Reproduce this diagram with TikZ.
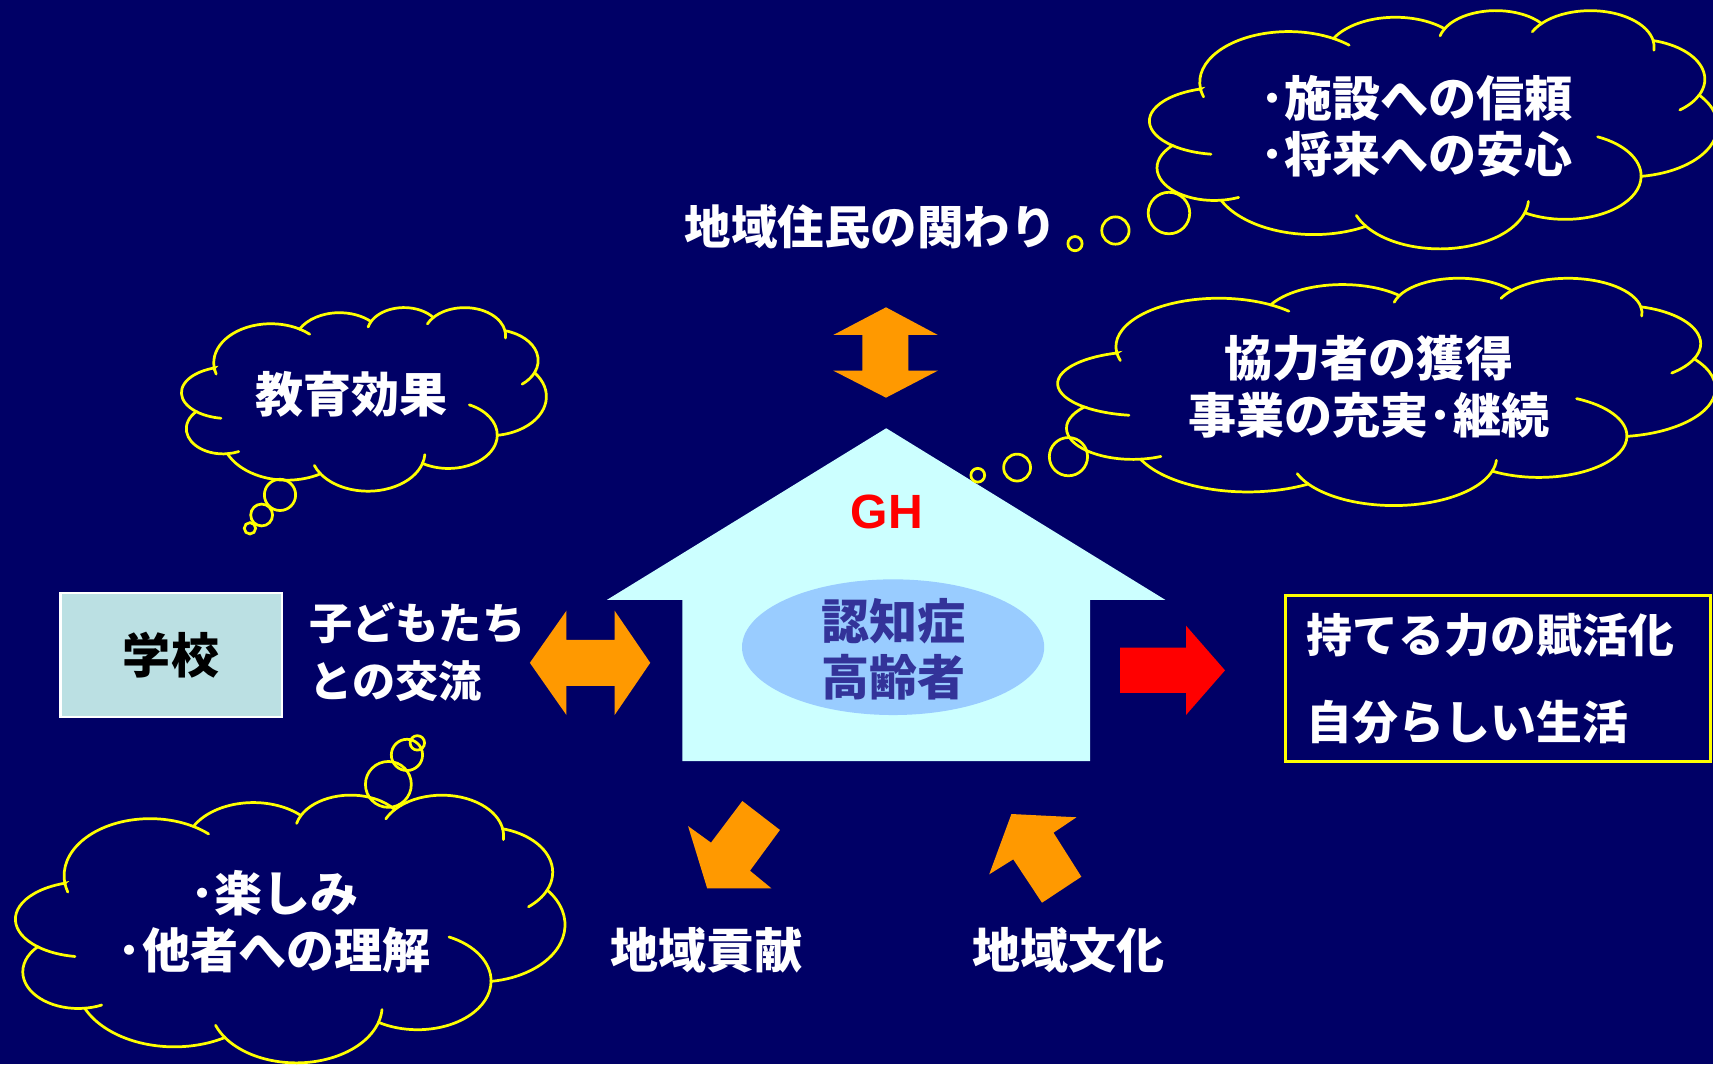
\documentclass[tikz,border=0pt]{standalone}
\usepackage{fontspec}
\newfontfamily\jp{Noto Sans CJK JP}
\newfontfamily\arialf{Liberation Sans}
\usetikzlibrary{shapes.geometric}
\definecolor{bg}{RGB}{0,0,102}
\definecolor{orangeA}{RGB}{255,153,0}
\definecolor{houseC}{RGB}{204,255,255}
\definecolor{ellC}{RGB}{153,204,255}
\definecolor{ellT}{RGB}{51,51,153}
\definecolor{schoolC}{RGB}{187,224,227}
\definecolor{cloudY}{RGB}{255,255,0}
\tikzset{
  cloudline/.style={draw=cloudY, line width=2.5pt, line cap=round},
  bubble/.style={draw=cloudY, line width=2.5pt},
  txt/.style={text=white, font=\jp\bfseries\fontsize{44}{52}\selectfont, inner sep=0pt, align=center},
  blockarrow/.style={fill=orangeA},
}
\newcommand{\cloudhook}[5]{\draw[cloudline] (#1) ++(#4:#2 and #3) arc[start angle=#4,end angle=#5,x radius=#2,y radius=#3];}
\newcommand{\mycloud}[4]{%
  \begin{scope}[shift={(#1,#2)},x=#3pt,y=-#4pt]
    \draw[cloudline] (9.028,33.264)
      arc[start angle=172.255,end angle=300.36,x radius=15.632,y radius=21.273]
      arc[start angle=-152.02,end angle=-45.45,x radius=12.345,y radius=16.822]
      arc[start angle=-153.49,end angle=-37.33,x radius=10.104,y radius=13.762]
      arc[start angle=-139.70,end angle=-10.21,x radius=11.243,y radius=15.266]
      arc[start angle=-74.77,end angle=23.21,x radius=12.345,y radius=16.836]
      arc[start angle=-37.52,end angle=81.86,x radius=15.683,y radius=21.343]
      arc[start angle=0.46,end angle=121.99,x radius=13.391,y radius=18.211]
      arc[start angle=16.84,end angle=146.25,x radius=15.630,y radius=21.331]
      arc[start angle=58.99,end angle=155.85,x radius=17.870,y radius=24.405]
      arc[start angle=83.31,end angle=223.12,x radius=10.093,y radius=13.699]
      arc[start angle=133.1,end angle=252.7,x radius=12.847,y radius=14.097] -- cycle;
    \cloudhook{24.517,30.397}{15.632}{21.273}{163.2}{172.255}
    \cloudhook{24.517,30.397}{15.632}{21.273}{300.36}{313}
    \cloudhook{61.023,14.089}{10.104}{13.762}{-166.6}{-153.49}
    \cloudhook{77.632,15.617}{11.243}{15.266}{-155.2}{-139.70}
    \cloudhook{77.632,15.617}{11.243}{15.266}{-10.21}{5}
    \cloudhook{85.454,29.156}{12.345}{16.836}{23.21}{50}
    \cloudhook{73.190,69.771}{13.391}{18.211}{-64.6}{0.46}
    \cloudhook{51.137,79.036}{15.630}{21.331}{3.78}{16.84}
    \cloudhook{51.137,79.036}{15.630}{21.331}{146.25}{160}
    \cloudhook{11.450,66.345}{10.093}{13.699}{65}{83.31}
    \cloudhook{12.847,46.690}{12.847}{14.097}{98.9}{133.1}
  \end{scope}}
\begin{document}
\begin{tikzpicture}[x=1pt,y=-1pt]
\useasboundingbox (0,0) rectangle (1568,974);
\fill[bg] (0,0) rectangle (1568,974);

% house
\fill[houseC] (555.4,549.2) -- (811.2,392) -- (1066.8,549.2) -- (997.8,549.2) -- (997.8,696.6) -- (624.5,696.6) -- (624.5,549.2) -- cycle;
\node[ellipse, fill=ellC, minimum width=276.6pt, minimum height=124.2pt, inner sep=0pt] (elder) at (817.5,592.4) {};
\node[txt, text=ellT, font=\jp\bfseries\fontsize{44}{51}\selectfont] (eldertext) at (818,594.5) {認知症\\高齢者};
\node[inner sep=0pt, text=red, font=\arialf\bfseries\fontsize{44}{50}\selectfont] (gh) at (811.7,468.5) {GH};

% school
\node[draw=white, line width=2pt, fill=schoolC, minimum width=202.5pt, minimum height=113.5pt, inner sep=0pt,
      text=black, font=\jp\bfseries\fontsize{44}{52}\selectfont] (school) at (156.55,599.25) {学校};
\node[txt, anchor=west, align=left, font=\jp\bfseries\fontsize{39.5}{53}\selectfont] (kids) at (283,596.5) {子どもたち\\との交流};

% goal box
\node[draw=cloudY, line width=2.5pt, minimum width=389.2pt, minimum height=152pt, inner sep=0pt] (goalbox) at (1371.4,621.2) {};
\node[txt, anchor=west, align=left, font=\jp\bfseries\fontsize{42}{80}\selectfont] (goaltext) at (1196,621) {持てる力の賦活化\\自分らしい生活};

% labels
\node[txt, font=\jp\bfseries\fontsize{42.5}{52}\selectfont] (resident) at (797,207.5) {地域住民の関わり};
\node[txt] (contrib) at (646.4,870) {地域貢献};
\node[txt] (culture) at (978,870) {地域文化};

% arrows
\fill[blockarrow] (811,281.3) -- (858.4,306.6) -- (831.5,306.6) -- (831.5,339.3) -- (858.4,339.3) -- (811,364)
  -- (762.8,339.3) -- (789.4,339.3) -- (789.4,306.6) -- (762.8,306.6) -- cycle;
\fill[blockarrow] (485,606.7) -- (518.5,559) -- (518.5,585.8) -- (562.6,585.8) -- (562.6,559) -- (595.2,606.7)
  -- (562.6,654.5) -- (562.6,627.9) -- (518.5,627.9) -- (518.5,654.5) -- cycle;
\fill[red] (1025.2,592.8) -- (1085.6,592.8) -- (1085.6,572.7) -- (1121.3,613.6) -- (1085.6,654.5) -- (1085.6,634.2) -- (1025.2,634.2) -- cycle;
\fill[blockarrow] (647.3,813.1) -- (629.8,756.1) -- (650.8,771.3) -- (679.5,733.2) -- (713.9,759.7) -- (686.5,797) -- (706.1,813.1) -- cycle;
\fill[blockarrow] (925.8,745.1) -- (985.4,748.1) -- (964.3,762.2) -- (989.8,802.5) -- (953.8,826.3) -- (927.5,786.6) -- (905.5,800.3) -- cycle;

% clouds
\mycloud{1052}{9}{5.20}{2.18}
\mycloud{968}{254}{6.02}{2.08}
\mycloud{166}{281}{3.34}{1.68}
\mycloud{14}{727}{5.03}{2.45}

% cloud texts
\node[txt] (trust) at (1296.5,115.5) {･施設への信頼\\･将来への安心};
\node[txt] (coop) at (1253,354) {協力者の獲得\\事業の充実･継続};
\node[txt] (edu) at (322,361) {教育効果};
\node[txt] (fun) at (251,844) {･楽しみ\\･他者への理解};

% bubbles
\draw[bubble] (1070,195) circle[radius=19];
\draw[bubble] (1021,211) circle[radius=12.5];
\draw[bubble] (984,223) circle[radius=6.5];
\draw[bubble] (978,418) circle[radius=17.5];
\draw[bubble] (931,428) circle[radius=12.3];
\draw[bubble] (895,435) circle[radius=6.3];
\draw[bubble] (256.3,453) circle[radius=14.3];
\draw[bubble] (239.5,471.4) circle[radius=10];
\draw[bubble] (228.8,483.6) circle[radius=5.2];
\draw[bubble] (355.5,718) circle[radius=21];
\draw[bubble] (372.5,691) circle[radius=14.3];
\draw[bubble] (382,680) circle[radius=6.6];
\end{tikzpicture}
\end{document}
